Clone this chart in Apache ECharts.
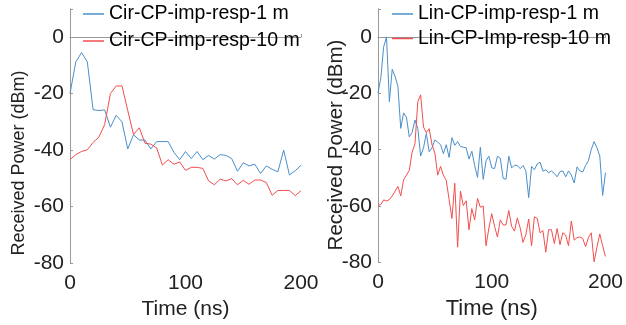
<!DOCTYPE html>
<html>
<head>
<meta charset="utf-8">
<script src="https://cdn.jsdelivr.net/npm/echarts@6/dist/echarts.min.js"></script>
<style>
  html, body { margin: 0; padding: 0; background: #fff; }
  #chart { width: 626px; height: 325px; }
</style>
</head>
<body>
<div id="chart"></div>
<script>
const FONT = "'Liberation Sans', Arial, sans-serif";
const BLUE = "#4a8fcb";
const RED = "#f24e4e";

// circular polarisation, 5 ns steps
const timeCir = [0, 5, 10, 15, 20, 25, 30, 35, 40, 45, 50, 55, 60, 65, 70, 75, 80, 85, 90, 95,
  100, 105, 110, 115, 120, 125, 130, 135, 140, 145, 150, 155, 160, 165, 170, 175, 180, 185, 190, 195, 200];
const cir1m = [-20, -8.8, -5.5, -8.8, -25.7, -26, -25.8, -31.9, -27.7, -30, -39.6, -34.6, -36.4, -36.5,
  -39.6, -37, -37, -37, -40.8, -43.4, -40.5, -43, -40.5, -43.4, -41.9, -43.2, -41.6, -41.9, -43, -47.5,
  -44.5, -45.6, -45, -48.3, -45.6, -46.8, -47.7, -40, -48.8, -47.3, -45.4];
const cir10m = [-43.4, -41.6, -40.5, -39.9, -37.3, -35.4, -31, -20, -17.3, -17.3, -26, -34.5, -32.1, -37.6,
  -37.9, -39.2, -45.3, -43.4, -45, -44.2, -47.2, -46.1, -46.1, -46.5, -50.9, -52.3, -50.3, -50.9, -50.1,
  -52.3, -50.7, -52.1, -50.6, -50.6, -51.5, -56, -54.3, -54.3, -54.3, -56.1, -54.4];

// linear polarisation, 2.5 ns steps
const timeLin = [0, 2.5, 5, 7.5, 10, 12.5, 15, 17.5, 20, 22.5, 25, 27.5, 30, 32.5, 35, 37.5, 40, 42.5, 45, 47.5,
  50, 52.5, 55, 57.5, 60, 62.5, 65, 67.5, 70, 72.5, 75, 77.5, 80, 82.5, 85, 87.5, 90, 92.5, 95, 97.5,
  100, 102.5, 105, 107.5, 110, 112.5, 115, 117.5, 120, 122.5, 125, 127.5, 130, 132.5, 135, 137.5, 140, 142.5, 145, 147.5,
  150, 152.5, 155, 157.5, 160, 162.5, 165, 167.5, 170, 172.5, 175, 177.5, 180, 182.5, 185, 187.5, 190, 192.5, 195, 197.5, 200];
const lin1m = [-20, -14.5, -3.5, 0, -23, -11.5, -14, -17.5, -32.5, -27,
  -28.5, -35.5, -34, -29.5, -32.5, -42.3, -39.4, -34.3, -40.8, -39.4,
  -36.6, -37.4, -38.3, -41.5, -38.3, -42.8, -35.8, -38.5, -37.2, -38.9,
  -39.2, -39.4, -43.4, -40.6, -45.7, -49.9, -39.2, -50.6, -44, -42.4,
  -46.5, -46.8, -42.4, -43.1, -50.2, -50.6, -42.4, -46.5, -45.6, -45.7,
  -46.8, -45.7, -47.6, -57.1, -46, -47.2, -45.1, -44.5, -47.7, -47.2,
  -48.3, -47.6, -48.5, -49.7, -47.9, -47.6, -49.7, -47.6, -49.1, -51.9,
  -46.2, -47.6, -48, -45.7, -44, -40, -37.2, -39.4, -42.3, -56.3, -48.2];
const lin10m = [-60, -59.5, -57.9, -58.3, -57.8, -56.5, -54.8, -53.1, -56.5, -50.8,
  -49.1, -47.4, -41, -38, -23, -20.6, -32, -34, -32.6, -38.3,
  -41.3, -49.1, -46, -49.1, -51, -57.7, -64.5, -52, -74.7, -54.8,
  -59.9, -58.2, -68.5, -61, -65, -57.4, -60.5, -60.1, -74.2, -67.9,
  -62.8, -67.3, -71.1, -65, -66.8, -66.8, -61.7, -67.3, -69, -64.3,
  -67.9, -73, -70.2, -64.7, -74.2, -63.9, -64.5, -69.6, -68.8, -76.5,
  -68.5, -68.5, -73.4, -68.1, -73.8, -69.6, -70.4, -74.2, -65.4, -72.2,
  -71.3, -71.1, -71.6, -74.5, -71.3, -69.6, -79.9, -74.7, -70, -74.2, -78];

const leftNames = ["Cir-CP-imp-resp-1 m", "Cir-CP-imp-resp-10 m"];
const rightNames = ["Lin-CP-imp-resp-1 m", "Lin-CP-Imp-resp-10 m"];

const zip = (xs, ys) => xs.map((x, i) => [x, ys[i]]);

const chart = echarts.init(document.getElementById("chart"));

const xAxisBase = (gridIndex, nameGap, nameSize) => ({
  gridIndex,
  type: "value",
  min: 0,
  max: 200,
  interval: 100,
  name: "Time (ns)",
  nameLocation: "middle",
  nameGap,
  nameTextStyle: { fontSize: nameSize, color: "#222", fontFamily: FONT, fontWeight: "normal" },
  axisLine: { lineStyle: { color: "#999", width: 1 } },
  axisTick: { inside: true, length: 3, lineStyle: { color: "#999" } },
  axisLabel: { fontSize: 21, color: "#222", fontFamily: FONT, margin: 10 },
  splitLine: { show: false },
});

const yAxisBase = (gridIndex) => ({
  gridIndex,
  type: "value",
  min: -80,
  max: 10,
  interval: 20,
  axisLine: { show: true, lineStyle: { color: "#999", width: 1 } },
  axisTick: { show: true, inside: true, length: 3, lineStyle: { color: "#999" } },
  axisLabel: {
    fontSize: 21, color: "#222", fontFamily: FONT, margin: 6,
    formatter: (v) => (v > 0 ? "" : String(v)),
  },
  splitLine: { show: false },
});

const legendBase = (left, itemGap, data) => ({
  orient: "vertical",
  left,
  top: 4,
  padding: 0,
  itemWidth: 21,
  itemHeight: 1.5,
  itemGap,
  icon: "rect",
  textStyle: { fontSize: 19.5, color: "#000", fontFamily: FONT },
  data,
});

const lineSeries = (name, color, idx, data) => ({
  name,
  type: "line",
  xAxisIndex: idx,
  yAxisIndex: idx,
  data,
  showSymbol: false,
  symbol: "none",
  lineStyle: { color, width: 1 },
  itemStyle: { color },
  emphasis: { disabled: true },
});

chart.setOption({
  animation: false,
  backgroundColor: "#fff",
  grid: [
    { left: 70, top: 8.8, width: 231, height: 259.2 },
    { left: 378, top: 8.75, width: 231, height: 263.25 },
  ],
  xAxis: [xAxisBase(0, 28, 21), xAxisBase(1, 24, 22)],
  yAxis: [yAxisBase(0), yAxisBase(1)],
  legend: [legendBase(83, 7, leftNames), legendBase(392, 4.5, rightNames)],
  graphic: [
    {
      type: "text", x: 19, y: 163, rotation: Math.PI / 2,
      style: { text: "Received Power (dBm)", fontSize: 18, fontFamily: FONT, fill: "#222", align: "center", verticalAlign: "middle" },
    },
    {
      type: "text", x: 336, y: 145, rotation: Math.PI / 2,
      style: { text: "Received Power (dBm)", fontSize: 20.5, fontFamily: FONT, fill: "#222", align: "center", verticalAlign: "middle" },
    },
  ],
  series: [
    lineSeries(leftNames[0], BLUE, 0, zip(timeCir, cir1m)),
    lineSeries(leftNames[1], RED, 0, zip(timeCir, cir10m)),
    lineSeries(rightNames[0], BLUE, 1, zip(timeLin, lin1m)),
    lineSeries(rightNames[1], RED, 1, zip(timeLin, lin10m)),
  ],
});
</script>
</body>
</html>
